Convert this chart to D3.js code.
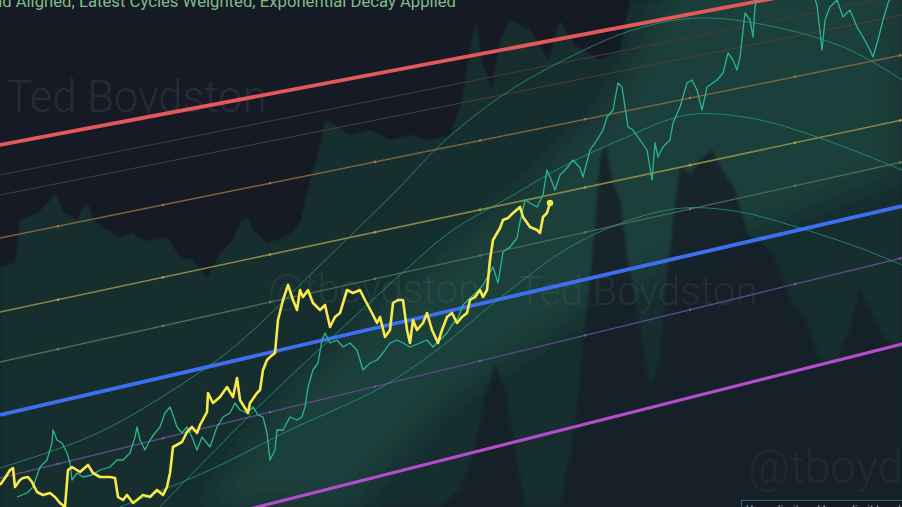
<!DOCTYPE html>
<html><head><meta charset="utf-8">
<script src="https://cdn.jsdelivr.net/npm/d3@7"></script>
<style>
html,body{margin:0;padding:0;background:#161a24;overflow:hidden;}
svg{display:block;}
</style></head>
<body>
<svg id="c" width="902" height="507"></svg>
<script>
// ---------- DATA (day index vs. log-price index) ----------
const titleText = "Trend Aligned, Latest Cycles Weighted, Exponential Decay Applied";

// current cycle (yellow)
const currentDays = [0,5,10,13,15,20,23,28,32,37,43,50,55,60,65,68,72,80,88,93,100,110,115,118,123,127,133,137,143,150,157,163,167,170,173,182,187,192,197,200,207,208,213,220,227,233,237,240,248,250,257,260,263,267,270,275,278,283,288,293,297,300,303,308,313,320,325,330,335,340,347,353,360,365,372,377,380,385,390,393,398,403,407,410,413,417,423,427,432,438,442,447,452,457,462,467,470,475,480,483,487,490,493,500,503,508,513,520,523,530,537,540,543,547,550];
const currentVals = [22,29,37,39,20,27,29,30,25,15,12,14,10,4,0,37,40,35,42,34,30,30,29,10,7,12,4,7,12,10,17,12,20,34,60,65,75,80,74,82,95,114,104,110,120,110,129,107,94,104,114,117,137,147,150,154,187,207,222,207,197,217,210,217,204,197,202,180,190,194,217,214,217,207,194,184,190,170,177,204,207,207,177,164,187,177,184,194,177,164,177,190,194,184,190,194,207,210,217,210,217,247,267,279,287,289,294,300,290,280,277,274,290,294,304];

// previous cycle (teal)
const prevDays = [17,27,33,40,47,52,53,57,62,67,70,72,77,83,92,100,110,117,123,130,135,137,140,145,150,155,160,165,170,173,177,182,187,192,197,202,210,217,223,230,235,240,247,253,258,263,267,270,275,277,283,290,297,302,305,308,313,318,322,325,330,337,343,350,357,363,370,377,383,390,397,403,410,420,427,433,440,447,452,458,463,470,477,483,487,493,498,503,510,517,520,525,530,537,543,547,550,555,560,567,573,580,583,590,597,603,607,613,618,622,625,628,633,640,647,652,655,658,663,670,673,680,687,692,697,702,707,717,723,728,733,737,740,745,750,753,755,760,775,795,810,817,822,825,830,837,843,850,857,863,870,873,878,883,888,895,902];
const prevVals = [10,14,20,40,47,64,77,67,64,54,44,27,34,30,32,37,40,47,47,54,70,80,67,57,67,74,80,94,100,92,80,74,80,70,57,70,60,80,90,94,104,97,94,100,92,90,74,47,57,77,77,90,87,90,100,120,137,144,167,174,164,167,160,164,157,137,144,147,154,164,167,164,160,164,167,160,167,174,182,189,202,209,215,222,229,240,224,255,260,269,285,307,304,300,312,337,330,317,332,339,347,339,330,357,367,377,390,397,424,420,400,380,377,367,357,327,364,350,360,367,384,400,424,427,417,397,420,427,434,454,447,437,450,494,487,470,500,522,542,547,522,502,457,487,500,507,490,497,480,470,457,450,467,487,504,517,527];

// projected cycle arcs
const arcDays = [
  [0,100,213,250,317,397,440,500,560,633,700,780,850,902],
  [160,250,340,400,450,510,560,620,687,750,820,902],
  [120,210,290,380,437,500,570,630,683,740,800,860,902]
];
const arcVals = [
  [39,75,144,174,239,317,362,410,445,477,489,479,457,427],
  [0,92,177,232,275,310,339,367,392,389,369,337],
  [0,37,77,119,157,209,260,287,299,295,279,259,242]
];

// parallel rainbow bands: value at day 0 and day 902
const bandStart = [362,332,312,269,195,145,92,29,-65];
const bandEnd   = [533,512,492,452,387,345,301,249,163];
const bandMarkerDays = [58,163,270,375,480,585,690,795,900];

// background envelopes
const envDays = [0,15,20,37,50,53,58,63,77,83,88,93,107,120,133,143,153,167,180,193,207,213,220,233,240,247,253,267,277,290,300,307,313,320,325,335,350,370,390,410,430,450,462,470,476,482,492,500,510,530,548,560,575,600,620,630,902];
const envTop  = [240,244,287,294,307,312,310,294,287,300,304,287,277,270,274,267,267,270,250,247,230,240,254,267,284,290,277,264,267,274,284,314,337,360,387,382,372,377,367,372,367,372,407,457,487,447,417,467,487,477,447,487,462,447,457,507,507];
const mtnDays = [380,440,460,475,485,495,505,515,525,560,575,585,595,600,606,612,620,628,640,650,660,670,680,690,700,712,722,735,748,760,775,790,805,820,835,850,860,870,885,902];
const mtnTop  = [0,0,17,57,107,142,117,57,0,0,77,177,277,347,362,327,307,247,177,117,147,257,342,332,347,357,337,317,272,267,247,207,187,147,142,177,217,197,167,157];
const coneUpperDays = [200,300,367,440,540,615,650,680,902];
const coneUpperVals = [0,127,187,252,332,412,487,530,530];
const coneLowerDays = [902,750,600,450,350];
const coneLowerVals = [337,277,207,107,0];

// ---------- STYLE ----------
const W = 902, H = 507;
const bandColors = ["#e35858","#4a393e","#4d3f3a","#7e6340","#8a8647","#4c6b56","#3d6ff0","#5c4a8a","#b54ccb"];
const bandWidths = [3.8,1,1,1.5,1.6,1.3,3.8,1.4,3.2];
const bandHasDots = [false,false,false,true,true,true,false,true,false];

const svg = d3.select("#c");
const defs = svg.append("defs");
defs.append("filter").attr("id","soft").attr("x","-20%").attr("y","-20%").attr("width","140%").attr("height","140%")
  .append("feGaussianBlur").attr("stdDeviation", 14);
defs.append("filter").attr("id","soft2")
  .append("feGaussianBlur").attr("stdDeviation", 1.2);

const x = d3.scaleLinear().domain([0, 902]).range([0, W]);
const y = d3.scaleLinear().domain([0, 507]).range([H, 0]);

svg.append("rect").attr("width", W).attr("height", H).attr("fill", "#161a24");

// teal envelope fill
const envData = envDays.map((d,i)=>({d, v: envTop[i]}));
svg.append("path").datum(envData)
  .attr("d", d3.area().x(p=>x(p.d)).y0(y(-20)).y1(p=>y(p.v)).curve(d3.curveLinear))
  .attr("fill", "#182f2f").attr("filter","url(#soft2)");

// lighter cone
const cone = coneUpperDays.map((d,i)=>[x(d), y(coneUpperVals[i])])
  .concat(coneLowerDays.map((d,i)=>[x(d), y(coneLowerVals[i])]));
svg.append("path").attr("d", d3.line().curve(d3.curveLinearClosed)(cone))
  .attr("fill", "#1c433e").attr("opacity", 0.85).attr("filter","url(#soft)");

// dark mountains from the bottom
const mtnData = mtnDays.map((d,i)=>({d, v: mtnTop[i]}));
svg.append("path").datum(mtnData)
  .attr("d", d3.area().x(p=>x(p.d)).y0(y(-20)).y1(p=>y(p.v)))
  .attr("fill", "#161c25").attr("opacity", 0.72).attr("filter","url(#soft2)");

// watermarks
const wm = svg.append("g").attr("font-family","Roboto, 'Open Sans', sans-serif").attr("font-weight",300);
wm.append("text").attr("x",6).attr("y",112).attr("font-size",43.5).attr("fill","#262b36").text("Ted Boydston");
wm.append("text").attr("x",268).attr("y",303).attr("font-size",40).attr("fill","#ffffff").attr("opacity",0.055).text("@tboydston");
wm.append("text").attr("x",518).attr("y",305).attr("font-size",40).attr("fill","#ffffff").attr("opacity",0.055).text("Ted Boydston");
wm.append("text").attr("x",748).attr("y",483).attr("font-size",46).attr("fill","#232834").text("@tboydston");

// parallel band lines
const lineGen = d3.line().x(p=>x(p[0])).y(p=>y(p[1]));
bandStart.forEach((v0,i)=>{
  svg.append("path").attr("d", lineGen([[0,v0],[902,bandEnd[i]]]))
    .attr("stroke", bandColors[i]).attr("stroke-width", bandWidths[i]).attr("fill","none");
  if (bandHasDots[i]) {
    svg.append("g").selectAll("circle").data(bandMarkerDays).join("circle")
      .attr("cx", d=>x(d)).attr("cy", d=>y(v0 + (bandEnd[i]-v0)*d/902)).attr("r", 1.3)
      .attr("fill", d3.color(bandColors[i]).brighter(0.5));
  }
});

// arcs
const arcGen = d3.line().x(p=>x(p.d)).y(p=>y(p.v)).curve(d3.curveCatmullRom);
arcDays.forEach((ds,k)=>{
  svg.append("path").datum(ds.map((d,i)=>({d, v: arcVals[k][i]})))
    .attr("d", arcGen).attr("fill","none").attr("stroke","#2aa088").attr("stroke-width",1).attr("opacity",0.7);
});

// previous cycle
const pGen = d3.line().x(p=>x(p.d)).y(p=>y(p.v));
svg.append("path").datum(prevDays.map((d,i)=>({d, v: prevVals[i]})))
  .attr("d", pGen).attr("fill","none").attr("stroke","#2db592").attr("stroke-width",1.3).attr("stroke-linejoin","round");

// current cycle
const cur = currentDays.map((d,i)=>({d, v: currentVals[i]}));
svg.append("path").datum(cur)
  .attr("d", pGen).attr("fill","none").attr("stroke","#f7ea4a").attr("stroke-width",2.6).attr("stroke-linejoin","round");
const last = cur[cur.length-1];
svg.append("circle").attr("cx", x(last.d)).attr("cy", y(last.v)).attr("r", 3.2).attr("fill","#f7ea4a");

// title (cut at top)
svg.append("text").attr("x", 456).attr("y", 7).attr("text-anchor","end")
  .attr("font-family","Roboto, sans-serif").attr("font-size",16.7).attr("fill","#7fbd88").text(titleText);

// small legend box bottom right
svg.append("rect").attr("x",741.5).attr("y",500.5).attr("width",200).attr("height",24)
  .attr("fill","#161a24").attr("stroke","#2b6e60").attr("stroke-width",1);
svg.append("text").attr("x",746).attr("y",513).attr("font-family","Roboto, sans-serif").attr("font-size",11)
  .attr("fill","#9aa3b0").text("Upper limit and lower limit bands");
</script>
</body></html>
